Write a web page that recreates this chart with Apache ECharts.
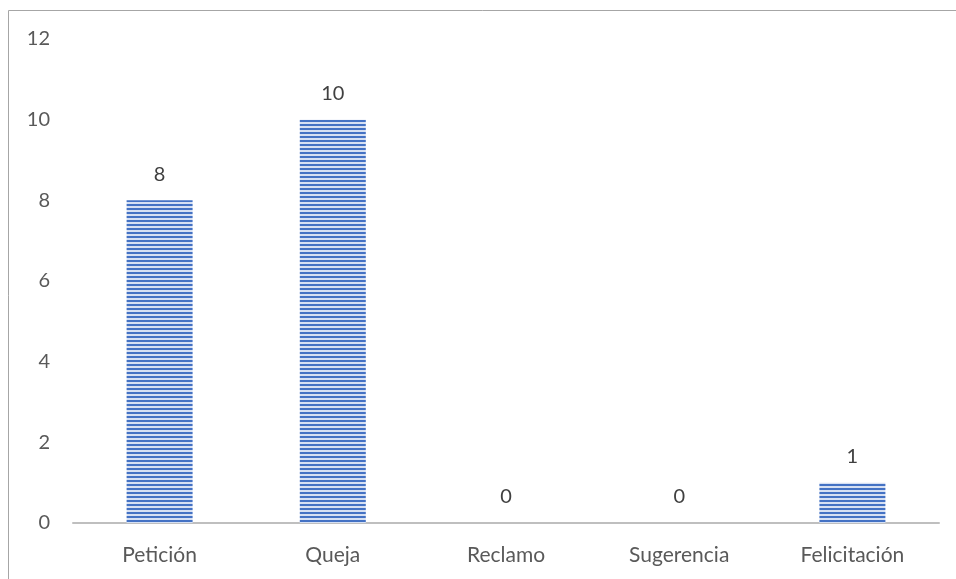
<!DOCTYPE html>
<html><head><meta charset="utf-8">
<script src="https://cdn.jsdelivr.net/npm/echarts@6/dist/echarts.min.js"></script>
<style>html,body{margin:0;padding:0;background:#fff}#c{width:956px;height:579px}</style>
</head><body><div id="c"></div>
<script>
const categories = ['Petición', 'Queja', 'Reclamo', 'Sugerencia', 'Felicitación'];
const values = [8, 10, 0, 0, 1];
const yTicks = [0, 2, 4, 6, 8, 10, 12];

const pc = document.createElement('canvas');
pc.width = 4; pc.height = 4;
const ctx = pc.getContext('2d');
ctx.fillStyle = '#d6e0f3'; ctx.fillRect(0, 0, 4, 4);
ctx.fillStyle = '#4472c4'; ctx.fillRect(0, 0, 4, 2);

const chart = echarts.init(document.getElementById('c'));
const font = 'Lato, "Open Sans", "Liberation Sans", sans-serif';
chart.setOption({
  animation: false,
  textStyle: { fontFamily: font },
  graphic: [{ type: 'rect', shape: { x: 8.5, y: 10.5, width: 960, height: 580 }, style: { fill: 'none', stroke: '#a6a6a6', lineWidth: 1 }, silent: true }],
  grid: { left: 73, right: 17, top: 39, bottom: 56 },
  xAxis: {
    type: 'category', data: categories,
    axisLine: { lineStyle: { color: '#bfbfbf', width: 2 } },
    axisTick: { show: false },
    axisLabel: { color: '#595959', fontSize: 21, margin: 22, fontFamily: font }
  },
  yAxis: {
    type: 'value', min: yTicks[0], max: yTicks[yTicks.length - 1], interval: 2,
    axisLine: { show: false }, axisTick: { show: false },
    splitLine: { show: false },
    axisLabel: { color: '#595959', fontSize: 20, margin: 23, fontFamily: font }
  },
  series: [{
    type: 'bar', data: values, barWidth: 66,
    itemStyle: { color: { image: pc, repeat: 'repeat' } },
    label: { show: true, position: 'top', distance: 16, color: '#404040', fontSize: 20, fontFamily: font }
  }]
});
</script></body></html>
